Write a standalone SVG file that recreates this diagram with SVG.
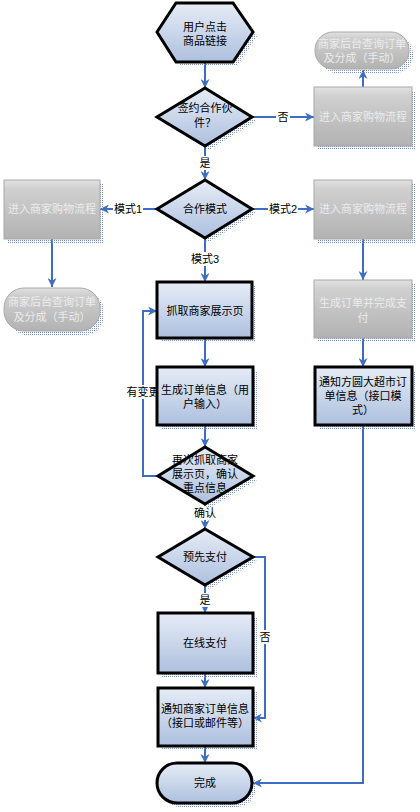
<svg xmlns="http://www.w3.org/2000/svg" width="420" height="812" viewBox="0 0 420 812">
<defs>
<linearGradient id="gBlue" x1="0" y1="0" x2="0" y2="1">
<stop offset="0" stop-color="#e6ecf6"/>
<stop offset="1" stop-color="#adc0df"/>
</linearGradient>
<linearGradient id="gGray" x1="0" y1="0" x2="0" y2="1">
<stop offset="0" stop-color="#e2e2e2"/>
<stop offset="0.15" stop-color="#d0d0d0"/>
<stop offset="1" stop-color="#b2b2b2"/>
</linearGradient>
<pattern id="dots" width="2" height="2" patternUnits="userSpaceOnUse">
<rect x="0" y="0" width="1" height="1" fill="#7d92c6"/>
</pattern>
<marker id="arr" viewBox="0 0 10 10" refX="10" refY="5" markerWidth="9" markerHeight="9" markerUnits="userSpaceOnUse" orient="auto">
<path d="M0,0 L10,5 L0,10 L3,5 z" fill="#3d6ec3"/>
</marker>
<style>
.blue{fill:url(#gBlue);stroke:#000;stroke-width:3}
.gray{fill:url(#gGray);stroke:#a8a8a8;stroke-width:1}
.sh{fill:url(#dots)}
.t{font-family:"Liberation Sans","Noto Sans CJK SC",sans-serif;font-size:11px;fill:#000;text-anchor:middle}
.tg{font-family:"Liberation Sans","Noto Sans CJK SC",sans-serif;font-size:11px;fill:#ececec;text-anchor:middle}
.c{fill:none;stroke:#3d6ec3;stroke-width:2}
.ca{fill:none;stroke:#3d6ec3;stroke-width:2;marker-end:url(#arr)}
.lb{fill:#fff}
</style>
</defs>
<rect width="420" height="812" fill="#fff"/>

<g id="connectors">
<path class="ca" d="M205,62 V88"/>
<path class="ca" d="M252,117 H314"/>
<rect class="lb" x="276" y="110" width="14" height="14"/>
<text class="t" x="283" y="121">否</text>
<path class="ca" d="M363,87 V70"/>
<path class="ca" d="M205,146 V180"/>
<rect class="lb" x="198" y="156" width="14" height="14"/>
<text class="t" x="205" y="167">是</text>
<path class="ca" d="M157,209 H100"/>
<rect class="lb" x="113" y="202" width="30" height="14"/>
<text class="t" x="128" y="213">模式1</text>
<path class="ca" d="M252,209 H314"/>
<rect class="lb" x="268" y="202" width="30" height="14"/>
<text class="t" x="283" y="213">模式2</text>
<path class="ca" d="M52,239 V287"/>
<path class="ca" d="M363,239 V280"/>
<path class="ca" d="M205,238 V282"/>
<rect class="lb" x="190" y="252" width="30" height="14"/>
<text class="t" x="205" y="263">模式3</text>
<path class="ca" d="M205,338 V367"/>
<path class="ca" d="M205,425 V447"/>
<path class="ca" d="M158,476 H143 V311 H157"/>
<rect class="lb" x="126" y="385" width="34" height="14"/>
<text class="t" x="143" y="396">有变更</text>
<path class="ca" d="M205,504 V529"/>
<rect class="lb" x="193" y="506" width="24" height="14"/>
<text class="t" x="205" y="517">确认</text>
<path class="ca" d="M205,585 V613"/>
<rect class="lb" x="198" y="593" width="14" height="14"/>
<text class="t" x="205" y="604">是</text>
<path class="ca" d="M205,673 V688"/>
<path class="ca" d="M253,557 H265 V718 H253"/>
<rect class="lb" x="259" y="630" width="12" height="14"/>
<text class="t" x="265" y="641">否</text>
<path class="ca" d="M205,746 V763"/>
<path class="ca" d="M363,338 V367"/>
<path class="ca" d="M363,425 V783 H253"/>
</g>

<g id="n_start">
<polygon class="sh" points="161,36 180,7 237,7 257,36 237,66 180,66"/>
<polygon class="blue" points="157,32 176,3 233,3 253,32 233,62 176,62"/>
<text class="t" x="205" y="31">用户点击</text>
<text class="t" x="205" y="45">商品链接</text>
</g>

<g id="n_partner">
<polygon class="sh" points="209,92 256,121 209,150 161,121"/>
<polygon class="blue" points="205,88 252,117 205,146 157,117"/>
<text class="t" x="205" y="112">签约合作伙</text>
<text class="t" x="205" y="127">件？</text>
</g>

<g id="n_shop1">
<rect class="sh" x="318" y="91" width="98" height="59"/>
<rect class="gray" x="314" y="87" width="98" height="59"/>
<text class="tg" x="363" y="121">进入商家购物流程</text>
</g>

<g id="n_backend1">
<rect class="sh" x="319" y="36" width="94" height="37" rx="18"/>
<rect class="gray" x="315" y="32" width="94" height="37" rx="18"/>
<text class="tg" x="362" y="48">商家后台查询订单</text>
<text class="tg" x="362" y="62">及分成（手动）</text>
</g>

<g id="n_mode">
<polygon class="sh" points="209,184 256,213 209,242 161,213"/>
<polygon class="blue" points="205,180 252,209 205,238 157,209"/>
<text class="t" x="205" y="213">合作模式</text>
</g>

<g id="n_shop_left">
<rect class="sh" x="8" y="184" width="96" height="59"/>
<rect class="gray" x="4" y="180" width="96" height="59"/>
<text class="tg" x="52" y="213">进入商家购物流程</text>
</g>

<g id="n_shop_right">
<rect class="sh" x="318" y="184" width="98" height="59"/>
<rect class="gray" x="314" y="180" width="98" height="59"/>
<text class="tg" x="363" y="213">进入商家购物流程</text>
</g>

<g id="n_backend2">
<rect class="sh" x="8" y="292" width="96" height="43" rx="20"/>
<rect class="gray" x="4" y="288" width="96" height="43" rx="20"/>
<text class="tg" x="52" y="306">商家后台查询订单</text>
<text class="tg" x="52" y="321">及分成（手动）</text>
</g>

<g id="n_genpay">
<rect class="sh" x="318" y="284" width="98" height="58"/>
<rect class="gray" x="314" y="280" width="98" height="58"/>
<text class="tg" x="363" y="307">生成订单并完成支</text>
<text class="tg" x="363" y="322">付</text>
</g>

<g id="n_fetch">
<rect class="sh" x="161" y="286" width="95" height="56"/>
<rect class="blue" x="157" y="282" width="95" height="56"/>
<text class="t" x="205" y="315">抓取商家展示页</text>
</g>

<g id="n_order">
<rect class="sh" x="161" y="371" width="96" height="58"/>
<rect class="blue" x="157" y="367" width="96" height="58"/>
<text class="t" x="205" y="394">生成订单信息（用</text>
<text class="t" x="205" y="408">户输入）</text>
</g>

<g id="n_confirm">
<polygon class="sh" points="209,451 257,480 209,508 162,480"/>
<polygon class="blue" points="205,447 253,476 205,504 158,476"/>
<text class="t" x="205" y="464">再次抓取商家</text>
<text class="t" x="205" y="478">展示页，确认</text>
<text class="t" x="205" y="492">重点信息</text>
</g>

<g id="n_prepay">
<polygon class="sh" points="209,533 257,561 209,589 162,561"/>
<polygon class="blue" points="205,529 253,557 205,585 158,557"/>
<text class="t" x="205" y="561">预先支付</text>
</g>

<g id="n_online">
<rect class="sh" x="162" y="617" width="95" height="60"/>
<rect class="blue" x="158" y="613" width="95" height="60"/>
<text class="t" x="205" y="647">在线支付</text>
</g>

<g id="n_notify">
<rect class="sh" x="162" y="692" width="95" height="58"/>
<rect class="blue" x="158" y="688" width="95" height="58"/>
<text class="t" x="205" y="713">通知商家订单信息</text>
<text class="t" x="205" y="727">（接口或邮件等）</text>
</g>

<g id="n_notify_fy">
<rect class="sh" x="319" y="371" width="97" height="58"/>
<rect class="blue" x="315" y="367" width="97" height="58"/>
<text class="t" x="363" y="386">通知方圆大超市订</text>
<text class="t" x="363" y="400">单信息（接口模</text>
<text class="t" x="363" y="414">式）</text>
</g>

<g id="n_done">
<rect class="sh" x="161" y="767" width="95" height="40" rx="20"/>
<rect class="blue" x="157" y="763" width="95" height="40" rx="20"/>
<text class="t" x="205" y="787">完成</text>
</g>
</svg>
